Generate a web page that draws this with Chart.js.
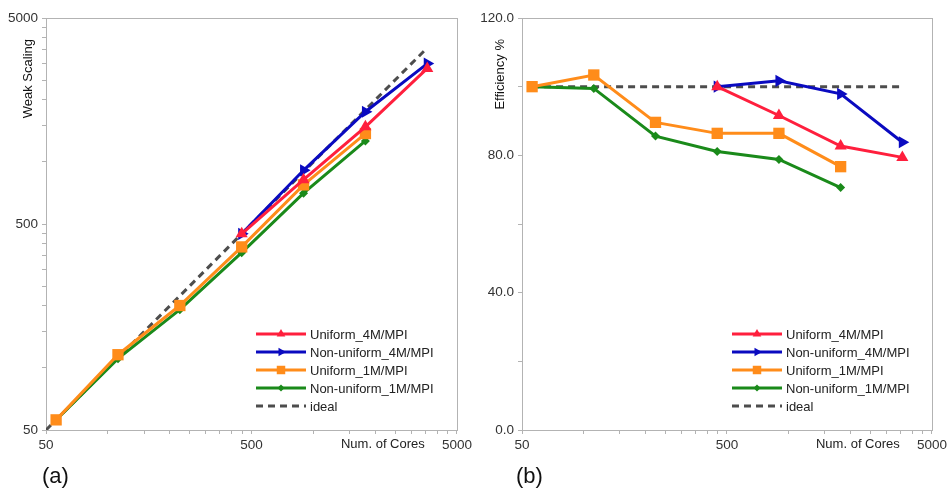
<!DOCTYPE html>
<html>
<head>
<meta charset="utf-8">
<title>Weak scaling and efficiency</title>
<script src="https://cdn.jsdelivr.net/npm/chart.js@4.4.1/dist/chart.umd.min.js"></script>
<style>
    html, body { margin: 0; padding: 0; background: #fff; }
    .row { display: flex; width: 950px; height: 490px; }
    .panel { width: 475px; height: 490px; position: relative; }
</style>
</head>
<body>
<div class="row">
    <div class="panel"><canvas id="chart-weak" width="475" height="490"></canvas></div>
    <div class="panel"><canvas id="chart-eff" width="475" height="490"></canvas></div>
</div>
<script>
// core counts per run
const cores1M = [56, 112, 224, 448, 896, 1792];
const cores4M = [448, 896, 1792, 3584];
const idealCores = [50, 3584];
const idealEffCores = [56, 3584];

// weak scaling (a)
const weakUniform4M = [448, 821, 1482, 2846];
const weakNonUniform4M = [448, 911, 1754, 3003];
const weakUniform1M = [56, 116, 201, 387, 774, 1374];
const weakNonUniform1M = [56, 111, 192, 363, 706, 1265];
const weakIdeal = [50, 3584];

// efficiency % (b)
const effUniform4M = [100, 91.6, 82.7, 79.4];
const effNonUniform4M = [100, 101.7, 97.9, 83.8];
const effUniform1M = [100, 103.4, 89.6, 86.4, 86.4, 76.7];
const effNonUniform1M = [100, 99.5, 85.6, 81.1, 78.8, 70.6];
const effIdeal = [100, 100];

// axis ticks
const logTicks = [50, 100, 150, 200, 250, 300, 350, 400, 450, 500,
                  1000, 1500, 2000, 2500, 3000, 3500, 4000, 4500, 5000];
const logLabels = [50, 500, 5000];
const effTicks = [0, 20, 40, 60, 80, 100, 120];
const effLabels = [0, 40, 80, 120];

Chart.defaults.font.family = '"Liberation Sans", Arial, sans-serif';
Chart.defaults.color = '#222';

const AXIS_GRAY = '#b3b3b3';

const styles = {
    u4: { label: 'Uniform_4M/MPI', color: '#ff1f3d', pointStyle: 'triangle', rotation: 0, radius: 7, legendRadius: 5 },
    n4: { label: 'Non-uniform_4M/MPI', color: '#0a0ac0', pointStyle: 'triangle', rotation: 90, radius: 7, legendRadius: 5 },
    u1: { label: 'Uniform_1M/MPI', color: '#ff8c1a', pointStyle: 'rect', rotation: 0, radius: 8, legendRadius: 6 },
    n1: { label: 'Non-uniform_1M/MPI', color: '#1a8a1a', pointStyle: 'rectRot', rotation: 0, radius: 4.5, legendRadius: 3.5 }
};

function pairs(xs, ys) {
    return xs.map((x, i) => ({ x, y: ys[i] }));
}

function series(key, xs, ys) {
    const s = styles[key];
    return {
        label: s.label,
        data: pairs(xs, ys),
        showLine: true,
        borderColor: s.color,
        backgroundColor: s.color,
        borderWidth: 3,
        pointStyle: s.pointStyle,
        pointRotation: s.rotation,
        pointRadius: s.radius,
        pointBorderWidth: 0,
        legendRadius: s.legendRadius,
        tension: 0
    };
}

function idealSeries(xs, ys) {
    return {
        label: 'ideal',
        data: pairs(xs, ys),
        showLine: true,
        borderColor: '#4d4d4d',
        backgroundColor: '#4d4d4d',
        borderWidth: 3,
        borderDash: [7, 5],
        pointRadius: 0,
        pointStyle: false
    };
}

// frame, axis titles, panel letter and the in-plot legend
const panelDecor = {
    id: 'panelDecor',
    beforeDatasetsDraw(chart) {
        const { ctx, chartArea: a } = chart;
        ctx.save();
        ctx.strokeStyle = AXIS_GRAY;
        ctx.lineWidth = 1;
        ctx.strokeRect(Math.round(a.left) + 0.5, Math.round(a.top) + 0.5,
                       Math.round(a.width), Math.round(a.height));
        ctx.restore();
    },
    afterDraw(chart, args, opts) {
        const { ctx, chartArea: a } = chart;
        ctx.save();
        ctx.fillStyle = '#111';
        ctx.font = '13px "Liberation Sans", Arial, sans-serif';

        // y title, rotated, hanging from the top
        ctx.save();
        ctx.translate(opts.yTitleX, a.top + 21);
        ctx.rotate(-Math.PI / 2);
        ctx.textAlign = 'right';
        ctx.textBaseline = 'middle';
        ctx.fillText(opts.yTitle, 0, 0);
        ctx.restore();

        // x title sits on the tick label row
        ctx.textAlign = 'left';
        ctx.textBaseline = 'middle';
        ctx.fillStyle = '#222';
        ctx.fillText('Num. of Cores', a.right - 116, a.bottom + 14);

        // panel letter
        ctx.font = '22px "Liberation Sans", Arial, sans-serif';
        ctx.fillStyle = '#111';
        ctx.fillText(opts.letter, opts.letterX, a.bottom + 47);

        // legend
        ctx.font = '13px "Liberation Sans", Arial, sans-serif';
        const x0 = a.left + 210, x1 = a.left + 260, tx = a.left + 264;
        let y = a.bottom - 96;
        chart.data.datasets.forEach(ds => {
            ctx.save();
            ctx.strokeStyle = ds.borderColor;
            ctx.lineWidth = 3;
            if (ds.borderDash) ctx.setLineDash(ds.borderDash);
            ctx.beginPath();
            ctx.moveTo(x0, y);
            ctx.lineTo(x1, y);
            ctx.stroke();
            ctx.restore();
            if (ds.pointStyle) {
                ctx.save();
                ctx.fillStyle = ds.backgroundColor;
                ctx.strokeStyle = ds.backgroundColor;
                ctx.lineWidth = 0;
                Chart.helpers.drawPoint(ctx, {
                    pointStyle: ds.pointStyle,
                    rotation: ds.pointRotation || 0,
                    radius: ds.legendRadius,
                    borderWidth: 0
                }, (x0 + x1) / 2, y);
                ctx.restore();
            }
            ctx.fillStyle = '#222';
            ctx.fillText(ds.label, tx, y + 1);
            y += 18;
        });
        ctx.restore();
    }
};

function logAxis(fitSize, horizontal) {
    return {
        type: 'logarithmic',
        min: 50,
        max: 5000,
        border: { display: true, color: AXIS_GRAY, width: 1 },
        grid: { drawOnChartArea: false, drawTicks: true, tickLength: 4, color: AXIS_GRAY },
        ticks: {
            autoSkip: false,
            maxRotation: 0,
            padding: horizontal ? 3 : 4,
            font: { size: 13.5 },
            color: '#333',
            callback: v => (logLabels.includes(v) ? String(v) : '')
        },
        afterBuildTicks: scale => { scale.ticks = logTicks.map(v => ({ value: v })); },
        afterFit: scale => {
            if (horizontal) scale.height = fitSize; else scale.width = fitSize;
        }
    };
}

function makeChart(id, datasets, yScale, decor, rightPad) {
    return new Chart(document.getElementById(id), {
        type: 'scatter',
        data: { datasets },
        options: {
            responsive: false,
            animation: false,
            layout: { padding: { top: 18, right: rightPad, left: 0, bottom: 0 } },
            scales: {
                x: logAxis(60, true),
                y: yScale
            },
            plugins: {
                legend: { display: false },
                tooltip: { enabled: false },
                panelDecor: decor
            }
        },
        plugins: [panelDecor]
    });
}

makeChart('chart-weak', [
    series('u4', cores4M, weakUniform4M),
    series('n4', cores4M, weakNonUniform4M),
    series('u1', cores1M, weakUniform1M),
    series('n1', cores1M, weakNonUniform1M),
    idealSeries(idealCores, weakIdeal)
], logAxis(46, false), { yTitle: 'Weak Scaling', yTitleX: 28, letter: '(a)', letterX: 42 }, 17);

makeChart('chart-eff', [
    series('u4', cores4M, effUniform4M),
    series('n4', cores4M, effNonUniform4M),
    series('u1', cores1M, effUniform1M),
    series('n1', cores1M, effNonUniform1M),
    idealSeries(idealEffCores, effIdeal)
], {
    type: 'linear',
    min: 0,
    max: 120,
    border: { display: true, color: AXIS_GRAY, width: 1 },
    grid: { drawOnChartArea: false, drawTicks: true, tickLength: 4, color: AXIS_GRAY },
    ticks: {
        autoSkip: false,
        padding: 4,
        font: { size: 13.5 },
        color: '#333',
        callback: v => (effLabels.includes(v) ? v.toFixed(1) : '')
    },
    afterBuildTicks: scale => { scale.ticks = effTicks.map(v => ({ value: v })); },
    afterFit: scale => { scale.width = 47; }
}, { yTitle: 'Efficiency %', yTitleX: 25, letter: '(b)', letterX: 41 }, 16);
</script>
</body>
</html>
